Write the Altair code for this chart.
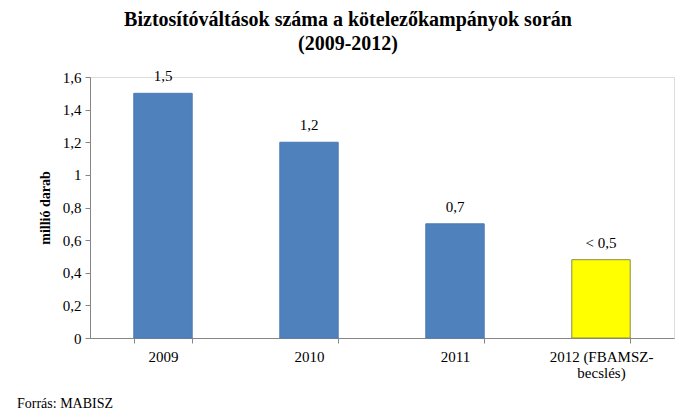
import altair as alt
import pandas as pd

categories = ["2009", "2010", "2011", "2012 (FBAMSZ-\nbecslés)"]
values = [1.5, 1.2, 0.7, 0.48]
value_labels = ["1,5", "1,2", "0,7", "< 0,5"]
fill_colors = ["#4F81BD", "#4F81BD", "#4F81BD", "#FFFF00"]
stroke_colors = ["#4A7AB3", "#4A7AB3", "#4A7AB3", "#8C8C40"]
y_ticks = [0, 0.2, 0.4, 0.6, 0.8, 1.0, 1.2, 1.4, 1.6]

title_lines = ["Biztosítóváltások száma a kötelezőkampányok  során", "(2009-2012)"]
y_title = "millió darab"
source_note = "Forrás: MABISZ"

df = pd.DataFrame({
    "cat": categories,
    "val": values,
    "lab": value_labels,
    "fill": fill_colors,
    "stroke": stroke_colors,
})

SERIF = "Liberation Serif"

x_enc = alt.X(
    "cat:N",
    sort=categories,
    title=None,
    scale=alt.Scale(paddingInner=0.6, paddingOuter=0.3),
    axis=alt.Axis(
        labelAngle=0,
        labelFont=SERIF,
        labelFontSize=15,
        labelColor="#000000",
        labelExpr="split(datum.label, '\\n')",
        labelLineHeight=16,
        labelPadding=6,
        labelOverlap=False,
        tickBand="extent",
        tickSize=5,
        tickColor="#868686",
        domainColor="#868686",
        grid=False,
    ),
)

y_enc = alt.Y(
    "val:Q",
    title=y_title,
    scale=alt.Scale(domain=[0, 1.6], nice=False, zero=True),
    axis=alt.Axis(
        values=y_ticks,
        labelExpr="replace(format(datum.value, '~g'), '.', ',')",
        labelFont=SERIF,
        labelFontSize=15,
        labelColor="#000000",
        labelPadding=4,
        labelOverlap=False,
        labelFlush=False,
        labelBound=False,
        tickSize=5,
        tickColor="#868686",
        domainColor="#868686",
        grid=False,
        titleFont=SERIF,
        titleFontSize=14,
        titleFontWeight="bold",
        titleColor="#000000",
        titlePadding=10,
    ),
)

bars = alt.Chart(df).mark_bar(strokeWidth=1).encode(
    x=x_enc,
    y=y_enc,
    fill=alt.Fill("fill:N", scale=None),
    stroke=alt.Stroke("stroke:N", scale=None),
)

texts = alt.Chart(df).mark_text(
    font=SERIF, fontSize=15, color="#000000", baseline="bottom", dy=-9
).encode(
    x=x_enc,
    y=y_enc,
    text="lab:N",
)

note = alt.Chart(pd.DataFrame({"t": [source_note]})).mark_text(
    font=SERIF, fontSize=14, color="#000000", align="left", baseline="alphabetic"
).encode(
    x=alt.value(-73),
    y=alt.value(331),
    text="t:N",
)

chart = alt.layer(bars, texts, note).properties(
    width=584,
    height=261,
    autosize=alt.AutoSizeParams(type="none"),
    padding={"left": 82, "top": 69, "right": 10, "bottom": 80},
    title=alt.TitleParams(
        text=title_lines,
        font=SERIF,
        fontSize=20,
        fontWeight="bold",
        color="#000000",
        lineHeight=24,
        anchor="middle",
        dx=-34,
        offset=15,
    ),
).configure_view(stroke=None).configure(background="#FFFFFF")

chart.save("out.html", embed_options={"renderer": "svg", "actions": False})
